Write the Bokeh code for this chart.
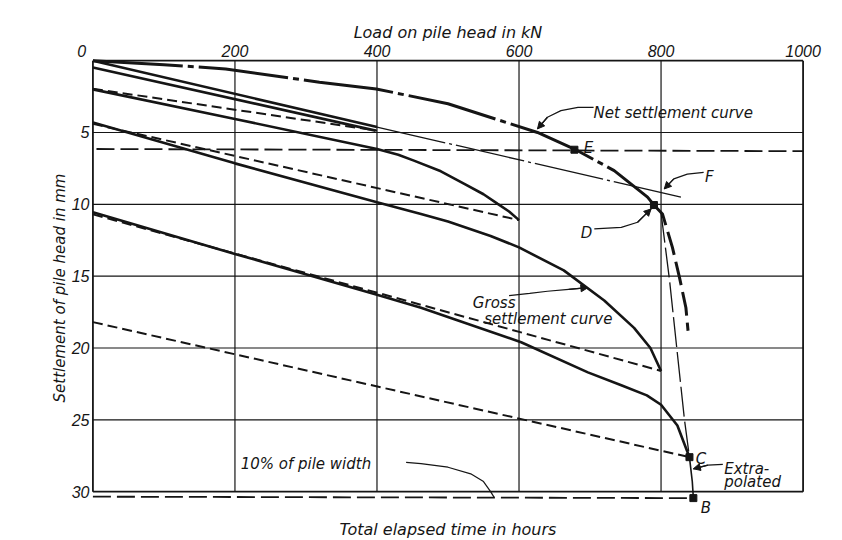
from bokeh.plotting import figure
from bokeh.models import Range1d, LinearAxis, FixedTicker, Arrow, NormalHead, ColumnDataSource
from bokeh.core.properties import value
from bokeh.embed import file_html
from bokeh.resources import INLINE

# ---------------- data ----------------
load_ticks = [0, 200, 400, 600, 800, 1000]
load_tick_labels = {0: "0\u00a0\u00a0\u00a0\u00a0\u00a0", 200: "200", 400: "400", 600: "600",
                    800: "800", 1000: "1000"}
settle_ticks = [5, 10, 15, 20, 25, 30]
grid_x = [200, 400, 600, 800]
grid_y = [5, 10, 15, 20, 25]
x_min, x_max = 0, 1000
y_min, y_max = 0, 30

# net settlement curve (load kN, settlement mm)
net_load = [0, 100, 187, 319, 399, 500, 626, 678, 734, 781, 790]
net_settle = [0, 0.28, 0.58, 1.5, 1.97, 3.0, 5.0, 6.15, 7.65, 9.5, 10.05]
net2_load = [790, 802, 816, 826, 835, 838]
net2_settle = [10.05, 10.67, 13.0, 15.1, 17.2, 18.8]

# tangent line through origin
tan1_load = [0, 400]
tan1_settle = [0, 4.62]
tan2_load = [400, 828]
tan2_settle = [4.62, 9.5]

# stage lines
s1_load = [0, 398]
s1_settle = [0.47, 4.87]
r1_load = [0, 400]
r1_settle = [1.96, 4.87]

s2_load = [0, 200, 400, 430, 452, 490, 523, 550, 570, 586, 600]
s2_settle = [2.0, 4.06, 6.15, 6.55, 6.96, 7.7, 8.58, 9.3, 9.97, 10.5, 11.1]
r2_load = [0, 600]
r2_settle = [4.4, 11.1]

s3_load = [0, 200, 400, 462, 500, 560, 600, 663, 720, 762, 785, 800]
s3_settle = [4.3, 7.15, 9.85, 10.67, 11.2, 12.2, 13.0, 14.6, 16.7, 18.6, 20.0, 21.6]
r3_load = [0, 800]
r3_settle = [10.7, 21.6]

s4_load = [0, 200, 400, 462, 509, 603, 697, 744, 780, 800, 823, 840]
s4_settle = [10.55, 13.45, 16.3, 17.2, 18.0, 19.6, 21.7, 22.6, 23.3, 23.95, 25.4, 27.6]
ext_load = [840, 844, 845.5]
ext_settle = [27.6, 29.3, 30.45]
r4_load = [0, 840]
r4_settle = [18.2, 27.6]

dc_load = [800, 812, 823, 833, 840]
dc_settle = [10.6, 15.3, 20.4, 25.0, 27.6]

h1_load = [5, 1000]
h1_settle = [6.15, 6.3]
h2_load = [0, 845.5]
h2_settle = [30.35, 30.45]

pt_load = [678, 790, 840, 845.5]
pt_settle = [6.2, 10.05, 27.6, 30.45]

# annotation texts
lab_text = ["Net settlement curve", "E", "F", "D", "Gross", "settlement curve",
            "C", "Extra-", "polated", "B", "10% of pile width"]
lab_x = [705, 691, 862, 687, 535, 551, 849, 889, 889, 856, 208]
lab_y = [3.62, 6.1, 8.12, 12.0, 16.9, 17.95, 27.7, 28.41, 29.35, 31.15, 28.05]

# annotation leader curves
a_net_x = [705, 683, 659, 640, 626]
a_net_y = [3.25, 3.25, 3.48, 3.94, 4.75]
a_gross_x = [586, 615, 640, 670, 697]
a_gross_y = [16.35, 16.2, 16.05, 15.92, 15.8]
a_f_x = [860, 837, 818, 804.5]
a_f_y = [7.77, 7.9, 8.23, 8.93]
a_d_x = [706, 744, 767, 786]
a_d_y = [11.71, 11.6, 11.25, 10.32]
a_ext_x = [887, 866, 845.5]
a_ext_y = [28.1, 28.15, 28.41]
a_10_x = [441, 462, 500, 532, 550, 560, 565]
a_10_y = [27.96, 28.05, 28.3, 28.76, 29.3, 30.0, 30.4]

# ---------------- figure ----------------
INK = "#151515"
NUMFONT = "Liberation Sans"
TXTFONT = "DejaVu Sans"

p = figure(frame_width=713, frame_height=459,
           x_range=Range1d(-2, 1002), y_range=Range1d(31.8, -0.15),
           x_axis_location="above", output_backend="svg", toolbar_location=None,
           min_border_left=91, min_border_right=38, min_border_top=58, min_border_bottom=23)
p.outline_line_color = None
p.xgrid.grid_line_color = None
p.ygrid.grid_line_color = None
p.background_fill_color = "white"

for ax in [p.xaxis[0], p.yaxis[0]]:
    ax.axis_line_color = None
    ax.major_tick_line_color = None
    ax.minor_tick_line_color = None
    ax.major_label_text_font = NUMFONT
    ax.major_label_text_font_style = "italic"
    ax.major_label_text_font_size = "16px"
    ax.major_label_text_color = INK
    ax.axis_label_text_font = TXTFONT
    ax.axis_label_text_font_style = "italic"
    ax.axis_label_text_color = INK

p.xaxis[0].ticker = FixedTicker(ticks=load_ticks)
p.xaxis[0].major_label_overrides = load_tick_labels
p.xaxis[0].major_label_standoff = -7
p.xaxis[0].axis_label = "Load on pile head in kN"
p.xaxis[0].axis_label_text_font_size = "16px"
p.xaxis[0].axis_label_standoff = -2

p.yaxis[0].ticker = FixedTicker(ticks=settle_ticks)
p.yaxis[0].major_label_standoff = -4
p.yaxis[0].axis_label = "Settlement of pile head in mm"
p.yaxis[0].axis_label_text_font_size = "15px"
p.yaxis[0].axis_label_standoff = 0

bax = LinearAxis(ticker=FixedTicker(ticks=[]), axis_label="Total elapsed time in hours",
                 axis_line_color=None, major_tick_line_color=None, minor_tick_line_color=None,
                 major_label_standoff=0, axis_label_standoff=2,
                 axis_label_text_font=TXTFONT, axis_label_text_font_style="italic",
                 axis_label_text_font_size="16px", axis_label_text_color=INK)
p.add_layout(bax, "below")

# grid and frame
p.segment(x0=grid_x, y0=[y_min]*len(grid_x), x1=grid_x, y1=[y_max]*len(grid_x),
          line_color=INK, line_width=1.2)
p.segment(x0=[x_min]*len(grid_y), y0=grid_y, x1=[x_max]*len(grid_y), y1=grid_y,
          line_color=INK, line_width=1.2)
p.multi_line(xs=[[x_min, x_min], [x_max, x_max], [x_min, x_max], [x_min, x_max]],
             ys=[[y_min, y_max], [y_min, y_max], [y_min, y_min], [y_max, y_max]],
             line_color=INK, line_width=1.8)

# horizontal dashed reference lines
p.line(h1_load, h1_settle, line_color=INK, line_width=1.8, line_dash="18 6")
p.line(h2_load, h2_settle, line_color=INK, line_width=1.8, line_dash="18 6")

# tangent
p.line(tan1_load, tan1_settle, line_color=INK, line_width=2.6)
p.line(tan2_load, tan2_settle, line_color=INK, line_width=1.3, line_dash="70 4 3 4")

# stages
p.line(s1_load, s1_settle, line_color=INK, line_width=2.6)
p.line(r1_load, r1_settle, line_color=INK, line_width=2.0, line_dash="10 5")
p.line(s2_load, s2_settle, line_color=INK, line_width=2.6)
p.line(r2_load, r2_settle, line_color=INK, line_width=2.0, line_dash="10 5")
p.line(s3_load, s3_settle, line_color=INK, line_width=2.6)
p.line(r3_load, r3_settle, line_color=INK, line_width=2.0, line_dash="10 5")
p.line(s4_load, s4_settle, line_color=INK, line_width=2.6)
p.line(ext_load, ext_settle, line_color=INK, line_width=1.6)
p.line(r4_load, r4_settle, line_color=INK, line_width=2.0, line_dash="10 5")
p.line(dc_load, dc_settle, line_color=INK, line_width=1.3, line_dash="30 5")

# net settlement curve
p.line(net_load, net_settle, line_color=INK, line_width=3.0, line_dash="90 5 6 5")
p.line(net2_load, net2_settle, line_color=INK, line_width=3.0, line_dash="24 7")

# points
p.scatter(pt_load, pt_settle, marker="square", size=7, fill_color=INK, line_color=INK)

# leader curves
for xs, ys in [(a_net_x, a_net_y), (a_gross_x, a_gross_y), (a_f_x, a_f_y),
               (a_d_x, a_d_y), (a_ext_x, a_ext_y), (a_10_x, a_10_y)]:
    p.line(xs, ys, line_color=INK, line_width=1.2)
for xs, ys in [(a_net_x, a_net_y), (a_gross_x, a_gross_y), (a_f_x, a_f_y),
               (a_d_x, a_d_y), (a_ext_x, a_ext_y)]:
    p.add_layout(Arrow(end=NormalHead(size=7, fill_color=INK, line_color=INK, line_width=1),
                       x_start=xs[-2], y_start=ys[-2], x_end=xs[-1], y_end=ys[-1],
                       line_color=INK, line_width=1.2))

src = ColumnDataSource(dict(x=lab_x, y=lab_y, text=lab_text))
p.text(x="x", y="y", text="text", source=src, text_font=value(TXTFONT), text_font_style="italic",
       text_font_size="15px", text_color=INK, text_align="left", text_baseline="alphabetic")

open("out.html", "w").write(file_html(p, INLINE))
